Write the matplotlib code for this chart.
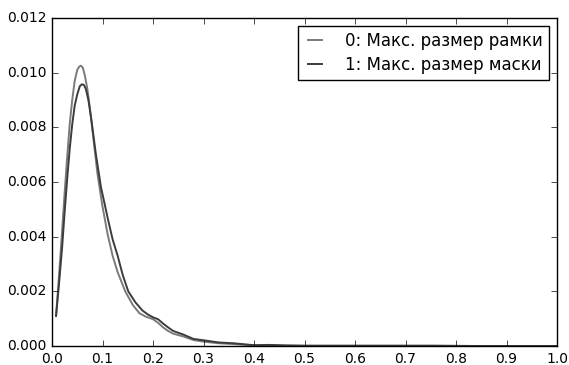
import numpy as np
import matplotlib.pyplot as plt
from matplotlib.ticker import FormatStrFormatter

# x positions (share) and density values
x0 = [0.008, 0.014, 0.02, 0.025, 0.03, 0.035, 0.04, 0.045, 0.05, 0.054, 0.057, 0.061, 0.065,
      0.07, 0.075, 0.08, 0.085, 0.09, 0.095, 0.1, 0.11, 0.12, 0.13, 0.145, 0.16, 0.173, 0.185,
      0.2, 0.21, 0.22, 0.23, 0.24, 0.26, 0.28, 0.3, 0.33, 0.36, 0.4, 0.43, 0.46, 0.5, 0.6,
      0.75, 0.85, 1.0]
y0 = [0.0011, 0.0026, 0.0042, 0.0056, 0.0069, 0.0081, 0.0090, 0.0097, 0.0101, 0.01022, 0.01025,
      0.01018, 0.0099, 0.0094, 0.0087, 0.0079, 0.0071, 0.0063, 0.0057, 0.0051, 0.0041, 0.0033,
      0.0027, 0.0020, 0.0015, 0.0012, 0.00108, 0.00098, 0.00085, 0.00068, 0.00055, 0.00045,
      0.00035, 0.00022, 0.00016, 0.0001, 0.00007, 0.00002, 0.00004, 0.00002, 0.00001, 0.00001,
      0.00001, 0.0, 0.0]

x1 = [0.008, 0.014, 0.02, 0.025, 0.03, 0.035, 0.04, 0.045, 0.05, 0.055, 0.059, 0.063, 0.067,
      0.072, 0.077, 0.082, 0.087, 0.092, 0.097, 0.103, 0.11, 0.12, 0.13, 0.14, 0.151, 0.165,
      0.179, 0.19, 0.2, 0.21, 0.22, 0.23, 0.24, 0.26, 0.28, 0.3, 0.33, 0.36, 0.4, 0.43, 0.46,
      0.5, 0.6, 0.75, 0.85, 1.0]
y1 = [0.0011, 0.0023, 0.0036, 0.0049, 0.0061, 0.0072, 0.0081, 0.0088, 0.0092, 0.0095, 0.00957,
      0.00955, 0.0094, 0.0090, 0.0084, 0.0077, 0.0070, 0.0064, 0.0058, 0.0053, 0.0047, 0.0039,
      0.0033, 0.0026, 0.0020, 0.0016, 0.0013, 0.00115, 0.00105, 0.00098, 0.00082, 0.00068,
      0.00055, 0.00042, 0.00026, 0.00021, 0.00013, 0.0001, 0.00003, 0.00004, 0.00002, 0.00001,
      0.00001, 0.00001, 0.0, 0.0]

labels = ['0: Макс. размер рамки', '1: Макс. размер маски']

plt.style.use('classic')
plt.rcParams['font.family'] = ['DejaVu Sans']

fig = plt.figure(figsize=(5.69, 3.65), dpi=100, facecolor='white')
ax = fig.add_axes([0.0914, 0.052, 0.8876, 0.899])
ax.plot(x0, y0, color='#7a7a7a', lw=1.4, label=labels[0])
ax.plot(x1, y1, color='#3c3c3c', lw=1.4, label=labels[1])
ax.set_xlim(0, 1.0)
ax.set_ylim(0, 0.012)
ax.set_xticks(np.arange(0, 1.01, 0.1))
ax.set_yticks(np.arange(0, 0.0121, 0.002))
ax.yaxis.set_major_formatter(FormatStrFormatter('%.3f'))
ax.tick_params(labelsize=10)
ax.legend(loc='upper right', fontsize=12, handlelength=1.4, handletextpad=1.1,
          borderpad=0.35, labelspacing=0.35, fancybox=False)
fig.savefig('out.png', dpi=100, facecolor='white')
